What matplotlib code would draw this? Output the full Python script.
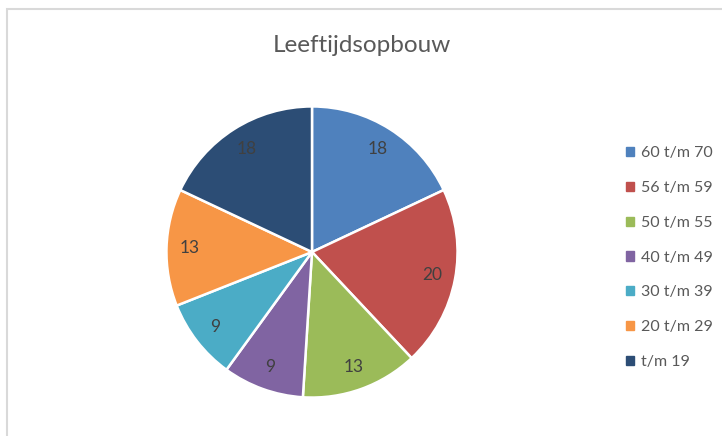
import matplotlib.pyplot as plt
from matplotlib.patches import Rectangle, Patch

categories = ["60 t/m 70", "56 t/m 59", "50 t/m 55", "40 t/m 49", "30 t/m 39", "20 t/m 29", "t/m 19"]
values = [18, 20, 13, 9, 9, 13, 18]
colors = ["#4F81BD", "#C0504D", "#9BBB59", "#8064A2", "#4BACC6", "#F79646", "#2C4D75"]

plt.rcParams['font.family'] = ['Lato', 'DejaVu Sans']

W, H = 722, 436
fig = plt.figure(figsize=(W / 100, H / 100), dpi=100)

# chart frame (light grey border at top and left)
fig.patches.append(Rectangle((7 / W, -0.1), 1.1, (H - 9) / H + 0.1, transform=fig.transFigure,
                             fill=False, edgecolor="#d9d9d9", linewidth=1.5))

fig.text(362 / W, 1 - 45 / H, "Leeftijdsopbouw", ha="center", va="center",
         fontsize=17.5, color="#595959")

cx, cy, r = 312, 252, 147
ax = fig.add_axes([(cx - r) / W, (H - cy - r) / H, 2 * r / W, 2 * r / H])
wedges, texts, autotexts = ax.pie(values, colors=colors, startangle=90, counterclock=False,
                                  autopct=lambda p: "%d" % round(p * sum(values) / 100),
                                  pctdistance=0.84,
                                  wedgeprops=dict(edgecolor="white", linewidth=1.8))
for t in autotexts:
    t.set_color("#404040")
    t.set_fontsize(12.5)
ax.set_xlim(-1.01, 1.01)
ax.set_ylim(-1.01, 1.01)
ax.set_aspect("equal")

handles = [Patch(facecolor=c, edgecolor=c) for c in colors]
leg = fig.legend(handles, categories, loc="upper left", bbox_to_anchor=(620 / W, 1 - 140 / H),
                 frameon=False, fontsize=11.5, handlelength=0.5, handleheight=0.5,
                 handletextpad=0.4, labelspacing=1.3, borderaxespad=0)
for t in leg.get_texts():
    t.set_color("#595959")

fig.savefig("out.png", dpi=100)
